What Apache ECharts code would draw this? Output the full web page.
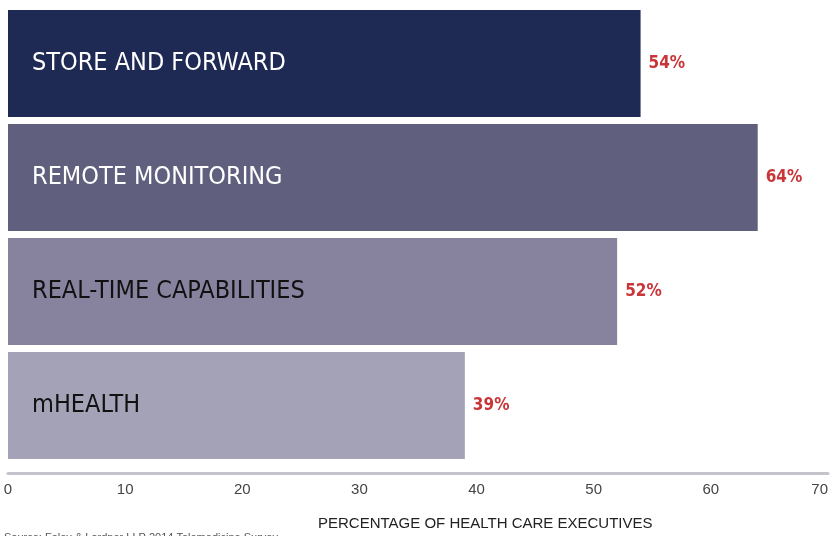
<!DOCTYPE html>
<html>
<head>
<meta charset="utf-8">
<script src="https://cdn.jsdelivr.net/npm/echarts@6/dist/echarts.min.js"></script>
<style>
html, body { margin: 0; padding: 0; background: #fff; }
#chart { width: 833px; height: 536px; }
</style>
</head>
<body>
<div id="chart"></div>
<script>
var categories = ['STORE AND FORWARD', 'REMOTE MONITORING', 'REAL-TIME CAPABILITIES', 'mHEALTH'];
var values = [54, 64, 52, 39];
var barColors = ['#1e2954', '#60607e', '#87839f', '#a4a2b7'];
var labelColors = ['#ffffff', '#ffffff', '#111111', '#111111'];
var axisTitle = 'PERCENTAGE OF HEALTH CARE EXECUTIVES';
var sourceNote = 'Source: Foley & Lardner LLP 2014 Telemedicine Survey';

var chart = echarts.init(document.getElementById('chart'));

var option = {
    animation: false,
    grid: { left: 8, right: 5, top: 6.5, bottom: 73.5, outerBoundsMode: 'none' },
    xAxis: {
        type: 'value',
        min: 0,
        max: 70,
        interval: 10,
        offset: 11,
        splitLine: { show: false },
        axisTick: { show: false },
        axisLine: { show: true, lineStyle: { color: '#c4c4cc', width: 3 } },
        axisLabel: {
            color: '#444',
            fontSize: 15,
            margin: 9,
            alignMaxLabel: 'right',
            fontFamily: 'Liberation Sans Narrow, Liberation Sans, sans-serif'
        }
    },
    yAxis: {
        type: 'category',
        data: categories,
        inverse: true,
        z: 10,
        axisLine: { show: false },
        axisTick: { show: false },
        axisLabel: {
            inside: true,
            margin: 24,
            fontSize: 25,
            fontFamily: 'Liberation Sans Narrow, DejaVu Sans Condensed, sans-serif',
            color: function (v, i) { return labelColors[i]; }
        }
    },
    series: [{
        type: 'bar',
        barCategoryGap: 7,
        data: values.map(function (v, i) {
            return { value: v, itemStyle: { color: barColors[i] } };
        }),
        label: {
            show: true,
            position: 'right',
            distance: 8,
            color: '#c8363a',
            fontSize: 17,
            fontWeight: 'bold',
            fontFamily: 'Liberation Sans Narrow, DejaVu Sans Condensed, sans-serif',
            formatter: '{c}%'
        }
    }],
    graphic: [{
        type: 'text',
        left: 318,
        top: 516,
        style: { text: axisTitle, fill: '#222', fontSize: 15, fontFamily: 'Liberation Sans, sans-serif' }
    }, {
        type: 'text',
        left: 4,
        top: 532,
        style: { text: sourceNote, fill: '#555', fontSize: 11, fontFamily: 'Liberation Sans, sans-serif' }
    }]
};

chart.setOption(option);
</script>
</body>
</html>
